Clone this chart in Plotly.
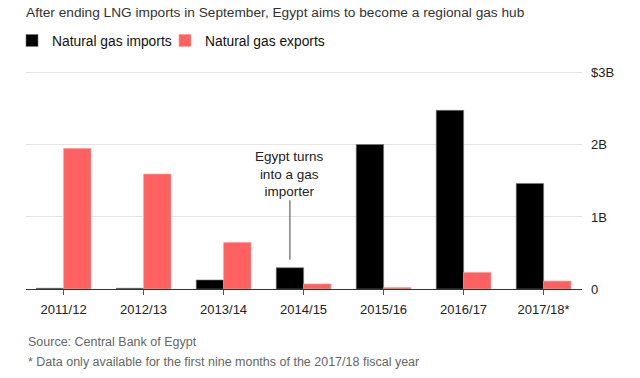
import plotly.graph_objects as go

years = ["2011/12", "2012/13", "2013/14", "2014/15", "2015/16", "2016/17", "2017/18*"]
imports_bn = [0.01, 0.01, 0.125, 0.295, 2.005, 2.48, 1.465]
exports_bn = [1.95, 1.595, 0.645, 0.07, 0.02, 0.23, 0.11]
y_ticks = [0, 1, 2, 3]
y_tick_labels = ["0", "1B", "2B", "$3B"]

FONT = "Liberation Sans, Arial, sans-serif"
RED = "#FF6161"

fig = go.Figure()
fig.add_trace(go.Bar(x=years, y=imports_bn, name="Natural gas imports", legend="legend",
                     marker=dict(color="#000000", line=dict(color="#777777", width=0.6))))
fig.add_trace(go.Bar(x=years, y=exports_bn, name="Natural gas exports", legend="legend2",
                     marker=dict(color=RED, line=dict(color="#ff9a9a", width=0.6))))

W, H = 640, 378
ml, mr, mt, mb = 26, 58, 70, 89
Y_TOP = 3.04

legend_style = dict(orientation="h", xref="container", xanchor="left",
                    y=1 - 40.5 / H, yref="container", yanchor="middle",
                    font=dict(size=13.8, color="#111", family=FONT),
                    bgcolor="rgba(0,0,0,0)", borderwidth=0)

fig.update_layout(
    width=W, height=H,
    margin=dict(l=ml, r=mr, t=mt, b=mb, pad=0, autoexpand=False),
    paper_bgcolor="white", plot_bgcolor="white",
    font=dict(family=FONT, color="#222"),
    barmode="group", bargap=0.316, bargroupgap=0,
    title=dict(text="After ending LNG imports in September, Egypt aims to become a regional gas hub",
               x=26 / W, xanchor="left", y=1 - 12.7 / H, yanchor="middle",
               font=dict(size=13.7, color="#333", family=FONT)),
    legend=dict(x=12 / W, **legend_style),
    legend2=dict(x=165 / W, **legend_style),
    showlegend=True,
    xaxis=dict(range=[-0.47, 6.48], showgrid=False, ticks="outside", ticklen=5,
               tickcolor="#555", tickwidth=1, showline=True, linecolor="#333", linewidth=1,
               ticklabelstandoff=3,
               tickfont=dict(size=13, color="#222", family=FONT), fixedrange=True),
    yaxis=dict(range=[0, Y_TOP], side="right", tickvals=y_ticks, ticktext=y_tick_labels,
               showgrid=True, gridcolor="#e4e4e4", gridwidth=1, zeroline=False,
               ticks="", ticklabelstandoff=8,
               tickfont=dict(size=13, color="#222", family=FONT), fixedrange=True),
)

# annotation pointing at the 2014/15 imports bar
fig.add_annotation(x="2014/15", y=imports_bn[3], xref="x", yref="y",
                   text="Egypt turns<br>into a gas<br>importer", showarrow=True,
                   arrowhead=0, arrowwidth=1, arrowcolor="#444", ax=0, ay=-94,
                   standoff=8, xshift=-13.7,
                   font=dict(size=13.5, color="#222", family=FONT))

plot_h = H - mt - mb
def py(px):
    return (H - mb - px) / plot_h

fig.add_annotation(x=0, xref="paper", y=py(342.3), yref="paper", xanchor="left", yanchor="middle",
                   text="Source: Central Bank of Egypt", showarrow=False,
                   font=dict(size=12.5, color="#666", family=FONT))
fig.add_annotation(x=0, xref="paper", y=py(361.7), yref="paper", xanchor="left", yanchor="middle",
                   text="* Data only available for the first nine months of the 2017/18 fiscal year",
                   showarrow=False, font=dict(size=12.5, color="#666", family=FONT))

fig.write_html("out.html", config={"displayModeBar": False},
               post_script="document.body.style.margin='0';document.body.style.overflow='hidden';")
